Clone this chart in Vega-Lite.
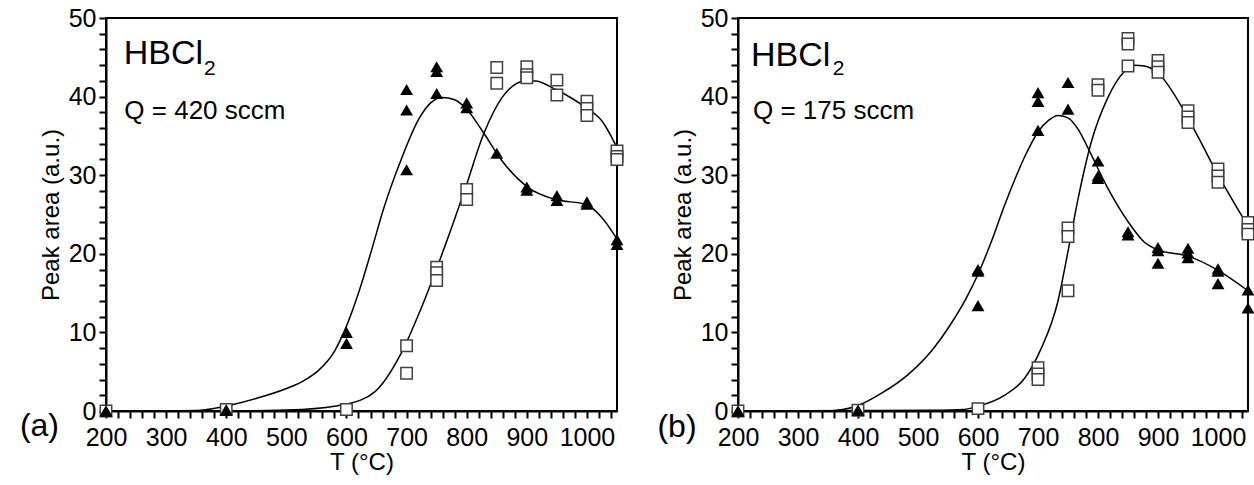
{
  "$schema": "https://vega.github.io/schema/vega-lite/v6.json",
  "padding": {"left": 18, "top": 5, "right": 0, "bottom": 0},
  "spacing": 29,
  "datasets": {
    "a_tri": [
      {"T":200,"v":0},{"T":200,"v":0},{"T":400,"v":0.15},{"T":400,"v":0.1},
      {"T":600,"v":10.0},{"T":600,"v":8.6},
      {"T":700,"v":40.9},{"T":700,"v":38.3},{"T":700,"v":30.7},
      {"T":750,"v":43.8},{"T":750,"v":43.2},{"T":750,"v":40.4},
      {"T":800,"v":39.2},{"T":800,"v":38.6},
      {"T":850,"v":32.8},
      {"T":900,"v":28.5},{"T":900,"v":28.1},
      {"T":950,"v":27.4},{"T":950,"v":26.8},
      {"T":1000,"v":26.6},{"T":1000,"v":26.3},
      {"T":1050,"v":21.8},{"T":1050,"v":21.2}
    ],
    "a_sq": [
      {"T":200,"v":0},{"T":400,"v":0.2},{"T":600,"v":0.2},
      {"T":700,"v":8.3},{"T":700,"v":4.8},
      {"T":750,"v":18.3},{"T":750,"v":17.6},{"T":750,"v":16.6},
      {"T":800,"v":28.2},{"T":800,"v":26.9},
      {"T":850,"v":43.7},{"T":850,"v":41.7},
      {"T":900,"v":43.8},{"T":900,"v":42.8},{"T":900,"v":42.4},
      {"T":950,"v":42.1},{"T":950,"v":40.2},
      {"T":1000,"v":39.4},{"T":1000,"v":38.5},{"T":1000,"v":37.6},
      {"T":1050,"v":33.1},{"T":1050,"v":32.4},{"T":1050,"v":32.0}
    ],
    "a_fit_tri": [
      {"T":200,"v":0},{"T":300,"v":0},{"T":350,"v":0.05},{"T":398,"v":0.6},{"T":450,"v":1.6},
      {"T":498,"v":2.8},{"T":530,"v":3.9},{"T":554,"v":5.2},{"T":580,"v":7.6},{"T":600,"v":10.8},
      {"T":620,"v":15.0},{"T":640,"v":20.0},{"T":662,"v":25.8},{"T":692,"v":32.2},{"T":720,"v":37.1},
      {"T":740,"v":39.2},{"T":759,"v":39.9},{"T":780,"v":39.6},
      {"T":800,"v":38.4},{"T":828,"v":35.4},{"T":859,"v":31.8},{"T":903,"v":28.4},{"T":948,"v":26.9},
      {"T":998,"v":26.3},{"T":1025,"v":24.6},{"T":1050,"v":21.9}
    ],
    "a_fit_sq": [
      {"T":200,"v":0},{"T":400,"v":0},{"T":526,"v":0.2},{"T":598,"v":0.85},{"T":648,"v":2.5},
      {"T":690,"v":7.2},{"T":726,"v":13.4},{"T":762,"v":20.6},{"T":798,"v":28.4},{"T":828,"v":35.2},
      {"T":859,"v":39.9},{"T":898,"v":42.0},{"T":914,"v":42.0},{"T":948,"v":40.9},{"T":998,"v":38.6},
      {"T":1025,"v":36.9},{"T":1050,"v":33.5}
    ],
    "b_tri": [
      {"T":200,"v":0},{"T":200,"v":0},{"T":400,"v":0.1},{"T":400,"v":0.1},
      {"T":600,"v":18.0},{"T":600,"v":17.8},{"T":600,"v":13.4},
      {"T":700,"v":40.5},{"T":700,"v":39.4},{"T":700,"v":35.7},
      {"T":750,"v":41.8},{"T":750,"v":38.4},
      {"T":800,"v":31.8},{"T":800,"v":29.9},{"T":800,"v":29.6},
      {"T":850,"v":22.8},{"T":850,"v":22.4},
      {"T":900,"v":20.8},{"T":900,"v":20.4},{"T":900,"v":18.8},
      {"T":950,"v":20.7},{"T":950,"v":20.1},{"T":950,"v":19.5},
      {"T":1000,"v":18.1},{"T":1000,"v":17.8},{"T":1000,"v":16.2},
      {"T":1050,"v":15.4},{"T":1050,"v":13.1}
    ],
    "b_sq": [
      {"T":200,"v":0},{"T":400,"v":0.1},{"T":600,"v":0.3},
      {"T":700,"v":5.5},{"T":700,"v":4.7},{"T":700,"v":4.0},
      {"T":750,"v":23.3},{"T":750,"v":22.2},{"T":750,"v":15.3},
      {"T":800,"v":41.5},{"T":800,"v":40.8},
      {"T":850,"v":47.4},{"T":850,"v":46.7},{"T":850,"v":43.9},
      {"T":900,"v":44.6},{"T":900,"v":43.8},{"T":900,"v":43.1},
      {"T":950,"v":38.2},{"T":950,"v":37.4},{"T":950,"v":36.7},
      {"T":1000,"v":30.8},{"T":1000,"v":29.9},{"T":1000,"v":29.1},
      {"T":1050,"v":24.0},{"T":1050,"v":23.1},{"T":1050,"v":22.5}
    ],
    "b_fit_tri": [
      {"T":200,"v":0},{"T":349,"v":0},{"T":400,"v":0.7},{"T":440,"v":2.3},{"T":483,"v":4.6},{"T":522,"v":7.6},
      {"T":555,"v":11.1},{"T":580,"v":14.3},{"T":600,"v":17.4},{"T":622,"v":21.5},{"T":644,"v":26.1},{"T":660,"v":29.2},
      {"T":680,"v":32.7},{"T":700,"v":35.5},{"T":718,"v":37.0},{"T":733,"v":37.6},{"T":750,"v":37.3},{"T":768,"v":35.7},
      {"T":783,"v":33.5},{"T":816,"v":28.4},
      {"T":850,"v":24.1},{"T":877,"v":21.5},{"T":900,"v":20.5},{"T":950,"v":19.7},{"T":1000,"v":17.9},
      {"T":1050,"v":15.3}
    ],
    "b_fit_sq": [
      {"T":200,"v":0},{"T":400,"v":0.05},{"T":522,"v":0.1},{"T":577,"v":0.2},{"T":600,"v":0.6},
      {"T":644,"v":2.0},{"T":677,"v":4.1},{"T":705,"v":7.9},{"T":733,"v":13.9},{"T":750,"v":20.3},
      {"T":766,"v":26.7},{"T":788,"v":34.0},{"T":816,"v":39.8},{"T":844,"v":43.2},{"T":860,"v":44.0},
      {"T":877,"v":43.9},{"T":900,"v":43.0},{"T":944,"v":38.1},{"T":966,"v":35.0},{"T":994,"v":30.9},
      {"T":1022,"v":27.1},{"T":1050,"v":23.5}
    ]
  },
  "hconcat": [
    {
      "width": 511,
      "height": 393,
      "encoding": {
        "x": {"field": "T", "type": "quantitative", "title": "T (°C)",
          "scale": {"domain": [200, 1050], "nice": false, "zero": false},
          "axis": {"values": [200,220,240,260,280,300,320,340,360,380,400,420,440,460,480,500,520,540,560,580,600,620,640,660,680,700,720,740,760,780,800,820,840,860,880,900,920,940,960,980,1000,1020,1040],
            "format": "d", "labelExpr": "datum.value % 100 === 0 ? datum.label : ''",
            "tickSize": 7}},
        "y": {"field": "v", "type": "quantitative", "title": "Peak area (a.u.)",
          "scale": {"domain": [0, 50], "nice": false},
          "axis": {"values": [0,2,4,6,8,10,12,14,16,18,20,22,24,26,28,30,32,34,36,38,40,42,44,46,48,50],
            "format": "d", "labelExpr": "datum.value % 10 === 0 ? datum.label : ''",
            "tickSize": 7}}
      },
      "layer": [
        {"data": {"name": "a_fit_tri"}, "mark": {"type": "line", "interpolate": "monotone", "color": "black", "strokeWidth": 1.5}},
        {"data": {"name": "a_fit_sq"}, "mark": {"type": "line", "interpolate": "monotone", "color": "black", "strokeWidth": 1.5}},
        {"data": {"name": "a_sq"}, "mark": {"type": "point", "shape": "square", "size": 130, "filled": false, "fill": "white", "fillOpacity": 1, "stroke": "#404040", "strokeWidth": 1.5, "opacity": 1}},
        {"data": {"name": "a_tri"}, "mark": {"type": "point", "shape": "triangle-up", "size": 165, "filled": true, "color": "black", "opacity": 1}},
        {"data": {"values": [{"T": 229.5, "v": 44.1, "label": "HBCl"}]}, "mark": {"type": "text", "fontSize": 34, "align": "left", "baseline": "alphabetic", "color": "black"}, "encoding": {"text": {"field": "label"}}},
        {"data": {"values": [{"T": 363, "v": 42.75, "label": "2"}]}, "mark": {"type": "text", "fontSize": 21, "align": "left", "baseline": "alphabetic", "color": "black"}, "encoding": {"text": {"field": "label"}}},
        {"data": {"values": [{"T": 230.5, "v": 37.1, "label": "Q = 420 sccm"}]}, "mark": {"type": "text", "fontSize": 26, "align": "left", "baseline": "alphabetic", "color": "black"}, "encoding": {"text": {"field": "label"}}},
        {"data": {"values": [{"T": 89.3, "v": -3.18, "label": "(a)"}]}, "mark": {"type": "text", "fontSize": 32, "align": "center", "baseline": "alphabetic", "color": "black"}, "encoding": {"text": {"field": "label"}}}
      ]
    },
    {
      "width": 510,
      "height": 393,
      "encoding": {
        "x": {"field": "T", "type": "quantitative", "title": "T (°C)",
          "scale": {"domain": [200, 1050], "nice": false, "zero": false},
          "axis": {"values": [200,220,240,260,280,300,320,340,360,380,400,420,440,460,480,500,520,540,560,580,600,620,640,660,680,700,720,740,760,780,800,820,840,860,880,900,920,940,960,980,1000,1020,1040],
            "format": "d", "labelExpr": "datum.value % 100 === 0 ? datum.label : ''",
            "tickSize": 7}},
        "y": {"field": "v", "type": "quantitative", "title": "Peak area (a.u.)",
          "scale": {"domain": [0, 50], "nice": false},
          "axis": {"values": [0,2,4,6,8,10,12,14,16,18,20,22,24,26,28,30,32,34,36,38,40,42,44,46,48,50],
            "format": "d", "labelExpr": "datum.value % 10 === 0 ? datum.label : ''",
            "tickSize": 7}}
      },
      "layer": [
        {"data": {"name": "b_fit_tri"}, "mark": {"type": "line", "interpolate": "monotone", "color": "black", "strokeWidth": 1.5}},
        {"data": {"name": "b_fit_sq"}, "mark": {"type": "line", "interpolate": "monotone", "color": "black", "strokeWidth": 1.5}},
        {"data": {"name": "b_sq"}, "mark": {"type": "point", "shape": "square", "size": 130, "filled": false, "fill": "white", "fillOpacity": 1, "stroke": "#404040", "strokeWidth": 1.5, "opacity": 1}},
        {"data": {"name": "b_tri"}, "mark": {"type": "point", "shape": "triangle-up", "size": 165, "filled": true, "color": "black", "opacity": 1}},
        {"data": {"values": [{"T": 221.7, "v": 43.9, "label": "HBCl"}]}, "mark": {"type": "text", "fontSize": 34, "align": "left", "baseline": "alphabetic", "color": "black"}, "encoding": {"text": {"field": "label"}}},
        {"data": {"values": [{"T": 358, "v": 42.7, "label": "2"}]}, "mark": {"type": "text", "fontSize": 21, "align": "left", "baseline": "alphabetic", "color": "black"}, "encoding": {"text": {"field": "label"}}},
        {"data": {"values": [{"T": 225, "v": 37.1, "label": "Q = 175 sccm"}]}, "mark": {"type": "text", "fontSize": 26, "align": "left", "baseline": "alphabetic", "color": "black"}, "encoding": {"text": {"field": "label"}}},
        {"data": {"values": [{"T": 98.3, "v": -3.3, "label": "(b)"}]}, "mark": {"type": "text", "fontSize": 32, "align": "center", "baseline": "alphabetic", "color": "black"}, "encoding": {"text": {"field": "label"}}}
      ]
    }
  ],
  "config": {
    "font": "Liberation Sans",
    "view": {"stroke": "black", "strokeWidth": 2},
    "text": {"font": "Liberation Sans"},
    "axis": {
      "grid": false, "ticks": true,
      "domainColor": "black", "domainWidth": 2,
      "tickColor": "black", "tickWidth": 2, "tickOpacity": 1,
      "labelFont": "Liberation Sans", "labelFontSize": 25, "labelColor": "black",
      "labelFlush": false, "labelOverlap": false,
      "titleFont": "Liberation Sans", "titleFontSize": 24, "titleFontWeight": "normal", "titleColor": "black"
    },
    "axisY": {"titlePadding": 5, "labelPadding": 3},
    "axisX": {"titlePadding": 0, "labelPadding": 7}
  }
}
